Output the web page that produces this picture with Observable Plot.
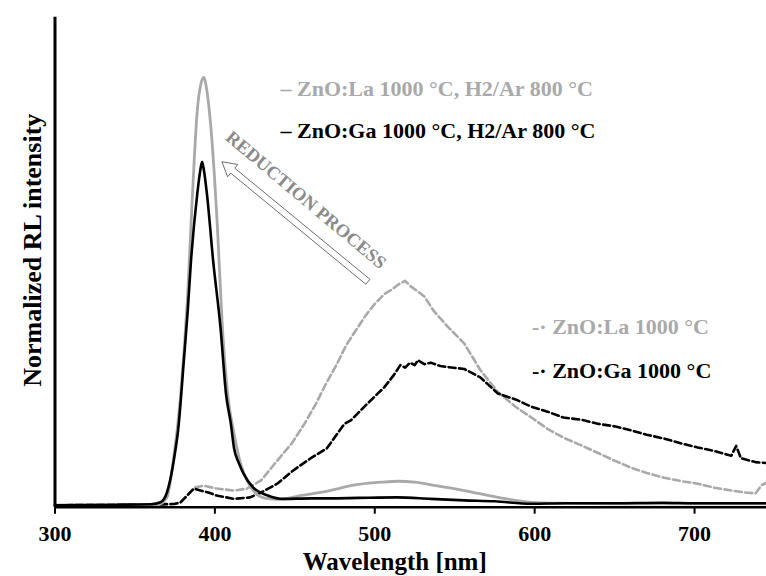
<!DOCTYPE html>
<html>
<head>
<meta charset="utf-8">
<script src="https://cdn.jsdelivr.net/npm/d3@7"></script>
<script src="https://cdn.jsdelivr.net/npm/@observablehq/plot@0.6"></script>
<style>
  html, body { margin: 0; padding: 0; background: #fff; }
  #chart svg { display: block; }
</style>
</head>
<body>
<div id="chart"></div>
<script>
// Radioluminescence spectra, normalized intensity vs wavelength (nm)

// ZnO:La 1000 °C, H2/Ar 800 °C (solid grey)
const laReducedNm = [300, 340, 365, 370, 374, 378.6, 383, 386, 389, 391, 393, 395, 397.5, 401.6, 404.7, 408, 412, 416, 420, 425, 432, 440, 454, 472, 485, 504, 515, 525, 540, 556, 577, 598, 620, 650, 700, 745];
const laReducedI  = [0.004, 0.004, 0.006, 0.02, 0.095, 0.23, 0.436, 0.64, 0.81, 0.86, 0.877, 0.85, 0.775, 0.57, 0.367, 0.23, 0.15, 0.09, 0.055, 0.03, 0.018, 0.016, 0.024, 0.034, 0.044, 0.051, 0.053, 0.051, 0.043, 0.034, 0.02, 0.01, 0.008, 0.007, 0.007, 0.007];

// ZnO:Ga 1000 °C, H2/Ar 800 °C (solid black)
const gaReducedNm = [300, 340, 360, 366, 370, 372, 375, 377, 380.6, 383, 385, 389, 391, 392, 393, 395, 399, 403.5, 407, 410, 412, 415, 418, 424, 433, 443, 460, 472, 490, 514, 535, 556, 575, 598, 620, 650, 680, 700, 745];
const gaReducedI  = [0.004, 0.005, 0.006, 0.01, 0.03, 0.055, 0.11, 0.157, 0.30, 0.40, 0.50, 0.64, 0.69, 0.705, 0.69, 0.64, 0.50, 0.367, 0.23, 0.17, 0.12, 0.09, 0.068, 0.04, 0.024, 0.017, 0.018, 0.018, 0.019, 0.02, 0.017, 0.014, 0.012, 0.007, 0.008, 0.008, 0.009, 0.008, 0.008];

// ZnO:La 1000 °C (dashed grey)
const laNm = [300, 360, 375, 378.6, 383, 387, 393, 401, 412, 420, 429, 439, 448, 456, 463, 470, 476, 482, 488, 494, 500, 506, 511, 515, 519, 522, 527, 531, 537, 546, 556, 566, 577, 588, 598, 608, 618, 630, 640, 650, 660, 670, 681, 692, 702, 712, 723, 732, 738, 742, 745];
const laI  = [0.004, 0.005, 0.006, 0.01, 0.025, 0.04, 0.044, 0.038, 0.034, 0.038, 0.055, 0.095, 0.13, 0.17, 0.21, 0.255, 0.29, 0.33, 0.36, 0.39, 0.415, 0.435, 0.445, 0.455, 0.462, 0.452, 0.44, 0.43, 0.40, 0.367, 0.334, 0.28, 0.235, 0.205, 0.183, 0.16, 0.142, 0.125, 0.11, 0.095, 0.081, 0.07, 0.06, 0.053, 0.048, 0.04, 0.034, 0.03, 0.028, 0.045, 0.05];

// ZnO:Ga 1000 °C (dashed black)
const gaNm = [300, 360, 375, 378.6, 383, 387, 391, 396, 401, 412, 422, 429, 439, 449, 460, 470, 481, 485, 495, 506, 512, 516, 519, 522, 525, 527, 531, 535, 541, 548, 556, 566, 577, 588, 598, 608, 618, 630, 640, 650, 660, 670, 681, 692, 702, 712, 723, 726, 729, 738, 745];
const gaI  = [0.004, 0.005, 0.007, 0.01, 0.025, 0.038, 0.034, 0.03, 0.024, 0.017, 0.02, 0.03, 0.048, 0.075, 0.1, 0.12, 0.17, 0.177, 0.21, 0.245, 0.27, 0.29, 0.285, 0.295, 0.29, 0.30, 0.292, 0.295, 0.288, 0.285, 0.282, 0.265, 0.232, 0.22, 0.205, 0.195, 0.183, 0.178, 0.17, 0.165, 0.157, 0.148, 0.14, 0.13, 0.122, 0.115, 0.105, 0.125, 0.1, 0.092, 0.09];

const xTicks = [300, 400, 500, 600, 700];

const legendLabels = [
  "\u2013 ZnO:La 1000 °C, H2/Ar 800 °C",
  "\u2013 ZnO:Ga 1000 °C, H2/Ar 800 °C",
  "-· ZnO:La 1000 °C",
  "-· ZnO:Ga 1000 °C"
];

// "REDUCTION PROCESS" arrow: tail and tip in data units
const arrowNm = [496, 404.7];
const arrowIntensity = [0.459, 0.704];
const arrowText = "REDUCTION PROCESS";

const toRows = (nm, v) => nm.map((x, i) => ({x, y: v[i]}));

const GREY = "#a9a9a9";
const FONT = "'Liberation Serif', 'Times New Roman', serif";

// hollow block arrow drawn in screen space from the data endpoints
function hollowArrow(index, scales) {
  const x0 = scales.x(arrowNm[0]), y0 = scales.y(arrowIntensity[0]);
  const x1 = scales.x(arrowNm[1]), y1 = scales.y(arrowIntensity[1]);
  const len = Math.hypot(x1 - x0, y1 - y0);
  const ux = (x1 - x0) / len, uy = (y1 - y0) / len;
  const nx = -uy, ny = ux;
  const w = 3.2, h = 8, L = 14;
  const bx = x1 - ux * L, by = y1 - uy * L;
  const pts = [
    [x0 + nx * w, y0 + ny * w],
    [bx + nx * w, by + ny * w],
    [bx + nx * h, by + ny * h],
    [x1, y1],
    [bx - nx * h, by - ny * h],
    [bx - nx * w, by - ny * w],
    [x0 - nx * w, y0 - ny * w]
  ];
  const g = d3.create("svg:g");
  g.append("polygon")
    .attr("points", pts.map(p => p.join(",")).join(" "))
    .attr("fill", "#fff")
    .attr("stroke", "#6e6e6e")
    .attr("stroke-width", 1);
  return g.node();
}

const chart = Plot.plot({
  width: 766,
  height: 576,
  marginLeft: 54.5,
  marginRight: 0,
  marginTop: 16.7,
  marginBottom: 69.3,
  style: {fontFamily: FONT, background: "#fff"},
  x: {domain: [300, 745]},
  y: {domain: [0, 1]},
  marks: [
    // tick marks only; the tick labels are drawn below as text
    Plot.axisX({ticks: xTicks, tickSize: 7, tickFormat: () => "", strokeWidth: 2, label: null, color: "#000"}),
    Plot.text(xTicks, {
      x: d => d, text: d => String(d), frameAnchor: "bottom", lineAnchor: "middle",
      dy: 26.5, fontSize: 22, fontWeight: "bold", fill: "#000"
    }),
    Plot.axisY({ticks: [], label: null}),
    Plot.line(toRows(laNm, laI), {x: "x", y: "y", stroke: GREY, strokeWidth: 2.6, strokeDasharray: "7,3.5"}),
    Plot.line(toRows(gaNm, gaI), {x: "x", y: "y", stroke: "#000", strokeWidth: 2.6, strokeDasharray: "7,3.5"}),
    Plot.line(toRows(laReducedNm, laReducedI), {x: "x", y: "y", stroke: GREY, strokeWidth: 2.8, curve: "monotone-x"}),
    Plot.line(toRows(gaReducedNm, gaReducedI), {x: "x", y: "y", stroke: "#000", strokeWidth: 2.6, curve: "monotone-x"}),
    Plot.ruleY([0], {stroke: "#000", strokeWidth: 2.5}),
    Plot.ruleX([300], {stroke: "#000", strokeWidth: 3}),
    hollowArrow,
    Plot.text([arrowText], {
      x: [457], y: [0.627], text: d => d, rotate: 40,
      fill: "#8a8a8a", fontSize: 18.5, fontWeight: "bold", fontFamily: FONT
    }),
    // legend
    Plot.text([legendLabels[0]], {text: d => d, frameAnchor: "top-left", textAnchor: "start", lineAnchor: "middle", dx: 225.5, dy: 71.3, fill: GREY, fontSize: 22, fontWeight: "bold"}),
    Plot.text([legendLabels[1]], {text: d => d, frameAnchor: "top-left", textAnchor: "start", lineAnchor: "middle", dx: 225.5, dy: 113.3, fill: "#000", fontSize: 22, fontWeight: "bold"}),
    Plot.text([legendLabels[2]], {text: d => d, frameAnchor: "top-left", textAnchor: "start", lineAnchor: "middle", dx: 477, dy: 310, fill: GREY, fontSize: 22, fontWeight: "bold"}),
    Plot.text([legendLabels[3]], {text: d => d, frameAnchor: "top-left", textAnchor: "start", lineAnchor: "middle", dx: 477, dy: 353.3, fill: "#000", fontSize: 22, fontWeight: "bold"}),
    // axis titles
    Plot.text(["Wavelength [nm]"], {text: d => d, frameAnchor: "bottom", textAnchor: "middle", lineAnchor: "middle", dx: -16, dy: 55, fontSize: 25, fontWeight: "bold", fill: "#000"}),
    Plot.text(["Normalized RL intensity"], {text: d => d, frameAnchor: "left", textAnchor: "middle", lineAnchor: "middle", rotate: -90, dx: -22.5, dy: -12, fontSize: 26, fontWeight: "bold", fill: "#000"})
  ]
});

document.getElementById("chart").append(chart);
</script>
</body>
</html>
